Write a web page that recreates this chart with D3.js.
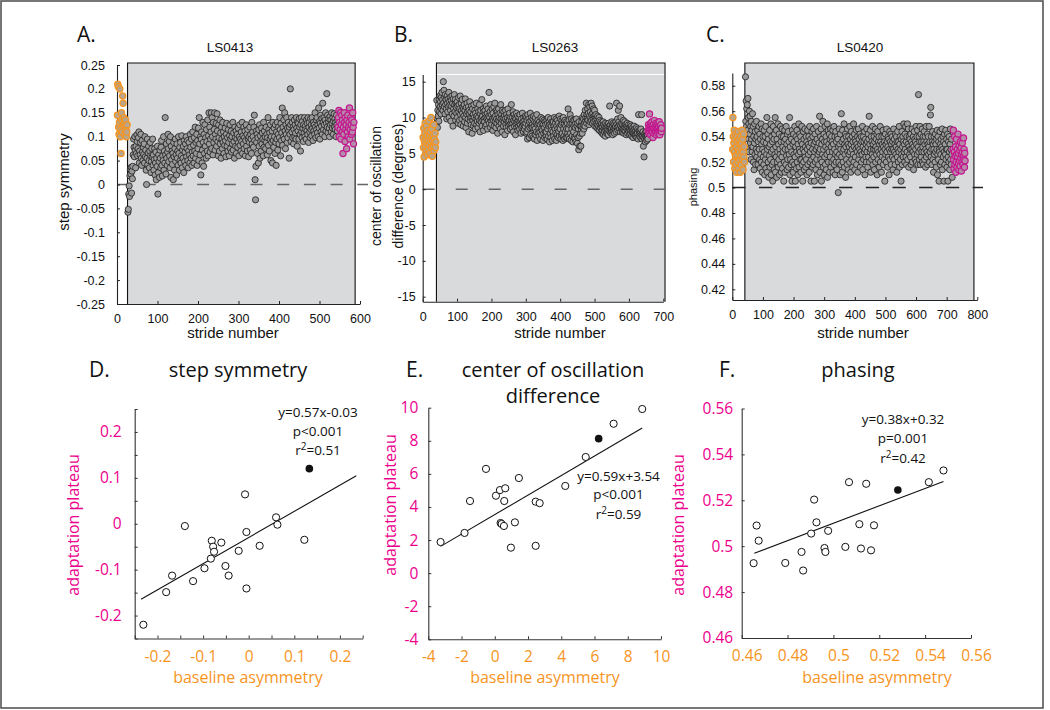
<!DOCTYPE html>
<html><head><meta charset="utf-8">
<script src="https://cdn.jsdelivr.net/npm/d3@7/dist/d3.min.js"></script>
<style>body{margin:0;background:#fff}</style>
</head><body>
<script>
// ================= DATA =================
// Panel A (LS0413) step symmetry, values in thousandths; first stride of each phase
const aStartStrides = [1, 27, 546];
const aBaseline = [145,210,205,120,105,130,200,100,115,65,150,135,110,185,170,125,140,130,105,120,135,115,100,110,125];
const aAdapt = [
-58,-52,-20,-3,-25,18,32,22,36,-18,28,12,38,62,95,78,58,100,72,35,
80,65,104,90,60,75,98,110,45,70,62,88,105,55,40,92,68,50,78,63,
85,45,100,58,72,30,0,55,95,42,66,80,50,35,70,88,60,25,48,75,
58,95,40,62,30,52,75,20,45,68,10,55,38,80,-20,25,62,48,15,72,
55,35,78,92,40,18,60,50,100,30,70,45,140,62,22,85,55,40,68,105,
75,48,90,60,35,100,15,80,52,70,42,65,10,88,58,30,75,95,48,62,
20,85,55,70,40,100,65,30,78,50,88,45,60,102,35,72,55,80,25,92,
48,68,85,40,100,58,75,92,50,35,70,88,62,45,105,78,55,95,40,68,
110,60,82,45,98,70,120,55,88,65,105,40,92,75,118,50,140,85,62,100,
20,95,110,45,72,130,88,38,105,65,125,80,98,55,115,90,70,135,60,102,
150,85,120,68,95,110,150,75,140,100,62,130,88,115,150,72,105,95,128,80,
148,112,90,60,125,98,70,135,85,108,55,120,95,75,130,88,110,65,100,82,
118,92,58,105,128,80,98,70,115,88,60,102,125,75,95,112,68,100,85,130,
72,108,90,55,120,98,80,112,65,95,105,78,118,88,60,100,125,82,95,70,
110,90,130,65,102,85,120,75,98,112,60,92,125,80,105,70,115,95,58,100,
88,120,72,105,95,65,130,85,110,100,78,120,145,92,10,-32,38,112,88,105,
65,98,45,115,80,125,55,102,90,70,118,85,108,95,60,130,78,112,92,100,
75,120,88,105,62,98,140,82,115,70,108,95,125,50,100,88,112,45,130,92,
78,118,100,65,125,88,40,110,95,130,72,105,120,85,98,140,115,60,128,92,
108,160,82,120,100,135,95,150,112,75,125,105,140,88,118,98,130,112,55,120,
105,200,125,90,140,110,130,98,120,85,115,135,100,125,108,95,140,118,80,130,
112,128,95,138,120,105,70,125,140,110,98,132,118,90,125,108,140,100,122,115,
95,135,112,128,105,140,88,120,130,110,98,138,115,125,102,140,118,92,130,112,
125,105,150,120,98,135,115,140,108,125,100,160,118,132,95,128,145,110,122,138,
105,170,130,115,140,125,100,135,150,112,128,190,120,145,108,132,138,118,100,142,
125,135,110,150,128,118,140,105,132,148,120,138,115,130,100,145,125,112,135];
const aPost = [120,140,155,100,130,115,150,95,125,145,110,135,65,120,105,150,130,90,140,115,125,75,135,110,145,100,120,130,160,95,115,140,125,105,135,110,150,120,85,130];

// Panel B (LS0263) center of oscillation difference, values in tenths of a degree
const bStartStrides = [1, 40, 656];
const bBaseline = [72,58,85,45,66,78,92,60,70,52,88,64,75,48,82,68,56,95,62,74,50,80,66,100,58,72,84,46,68,76,60,90,54,70,64,78,58,66];
const bAdapt = [
92,124,98,86,110,102,118,95,125,108,130,115,122,105,128,112,135,118,125,110,
150,120,138,115,128,105,132,118,125,112,98,130,120,108,126,115,135,100,122,117,
128,110,95,124,116,130,105,120,88,126,112,102,132,118,108,125,96,120,114,106,
122,100,116,92,128,108,118,96,112,130,104,90,120,110,98,125,106,115,88,112,
102,118,94,110,126,100,86,114,105,120,92,108,98,115,80,110,104,122,95,100,
108,90,116,100,78,112,96,104,88,118,100,92,110,84,106,98,120,90,102,95,
112,86,100,108,92,118,96,80,105,110,94,100,125,88,102,96,112,82,108,98,
94,110,88,104,100,116,90,98,106,84,112,96,102,135,92,100,108,86,118,95,
104,90,112,98,82,106,96,115,88,100,120,94,102,86,110,98,92,108,78,104,
96,112,88,100,94,106,84,118,98,92,104,80,110,96,100,88,108,94,102,76,
98,110,90,86,104,96,100,82,112,94,88,102,96,106,90,84,100,92,118,96,
86,100,92,108,80,96,104,88,94,100,76,98,90,106,86,94,102,82,96,88,
100,92,84,104,90,96,78,98,86,92,106,88,94,80,100,90,84,96,88,102,
92,78,100,80,96,70,104,84,90,98,72,94,86,106,76,96,88,100,74,90,
86,98,72,102,88,70,94,84,100,76,92,80,104,68,90,96,78,92,84,74,
94,80,90,70,100,84,76,92,82,98,68,90,78,96,86,72,94,80,90,74,
80,96,70,92,84,100,74,88,94,66,90,78,98,72,88,82,94,68,92,80,
94,74,88,100,70,84,92,78,98,68,88,76,96,84,72,92,80,102,74,88,
84,98,70,90,76,96,78,92,68,100,84,74,92,70,96,80,88,72,94,84,
72,92,78,112,84,74,96,70,90,104,78,92,68,98,84,74,92,66,96,80,
88,72,96,70,86,92,66,98,76,88,64,92,72,84,55,94,74,60,88,78,
60,88,82,94,78,100,86,90,98,84,104,92,88,110,96,100,120,92,104,98,
112,96,106,118,90,102,115,94,108,100,120,96,104,116,92,106,98,112,94,102,
110,88,100,96,104,92,86,98,90,102,84,94,88,100,82,96,90,86,94,80,
88,92,78,86,82,94,76,90,84,80,88,74,92,82,86,78,90,80,84,88,
76,92,82,88,116,80,86,90,78,84,94,80,88,76,92,84,80,90,78,86,
84,88,94,80,120,90,86,98,82,110,88,94,84,116,90,80,88,100,84,92,
86,80,90,84,96,78,88,82,94,86,80,90,76,88,84,92,78,86,82,90,
80,86,76,84,90,78,82,88,74,84,80,86,72,82,78,88,76,84,80,74,
82,76,86,72,80,78,84,70,104,76,82,74,80,78,72,84,76,104,70,78,
74,80,60,72,45,76,70,78,66,74,80,72,68,76,74,70];
const bPost = [82,90,78,86,105,80,84,92,76,88,82,94,80,86,72,90,84,78,96,82,88,80,85,92,76,84,90,82,78,88,86,80,94,82,76,86,84,90,80,85];

// Panel C (LS0420) phasing, values in thousandths
const cStartStrides = [1, 42, 721];
const cBaseline = [530,555,540,520,535,545,528,515,538,525,542,518,532,512,540,526,536,520,544,530,515,538,528,522,534,512,540,525,518,535,530,545,522,538,514,528,542,524,532,520];
const cAdapt = [
540,587,552,568,548,562,530,565,545,570,555,538,550,528,560,542,556,535,548,522,
552,538,545,528,558,532,548,520,540,514,535,550,526,544,518,538,530,552,524,540,
528,545,518,536,505,548,530,522,542,515,538,526,550,520,534,546,512,530,540,524,
536,518,545,528,510,540,522,548,515,535,526,555,512,530,542,520,538,508,532,525,
545,516,534,522,550,510,528,540,518,536,505,530,548,520,538,514,542,526,555,512,
532,524,545,508,538,520,528,550,516,534,522,542,510,530,526,548,518,536,512,540,
524,546,515,532,528,540,505,536,520,545,512,530,538,518,548,525,534,514,542,522,
530,544,516,536,526,555,510,532,522,540,518,538,528,505,545,520,534,512,542,526,
536,518,548,524,505,532,540,515,528,545,520,538,510,534,526,550,516,530,542,522,
528,540,512,536,522,548,518,534,505,530,544,520,538,514,528,546,524,532,516,540,
522,536,510,530,545,518,534,526,540,512,532,548,520,528,538,505,535,522,544,516,
530,540,518,546,524,534,505,528,542,520,536,514,530,548,522,538,510,532,526,544,
518,535,528,556,512,530,540,522,546,505,534,520,538,526,552,516,530,542,510,536,
524,548,518,532,540,514,536,526,550,508,530,545,520,534,528,542,512,538,524,546,
516,532,540,520,536,528,545,512,534,522,548,518,530,540,510,526,544,520,536,528,
514,540,524,538,496,532,520,546,526,534,510,542,530,518,558,524,536,512,545,528,
520,538,530,550,516,534,526,542,508,532,540,522,536,518,546,528,534,514,540,526,
532,520,548,528,538,512,534,544,522,530,540,516,536,526,550,520,532,542,514,538,
524,536,530,545,518,534,528,540,512,532,546,522,538,526,530,542,516,534,528,540,
520,536,526,548,514,532,540,522,536,528,544,510,530,538,524,534,520,546,528,536,
516,532,542,524,538,556,520,534,528,545,512,530,540,522,536,526,548,518,534,530,
524,540,514,536,530,546,520,532,538,526,542,510,530,544,522,536,528,540,516,534,
526,548,520,536,530,512,540,524,534,528,545,518,532,540,522,536,505,530,542,526,
534,520,546,528,536,516,532,540,524,538,510,530,544,522,536,528,542,518,534,530,
540,524,536,514,530,546,522,538,528,534,518,542,526,532,540,512,536,524,544,530,
520,536,528,548,516,534,540,522,530,505,538,526,544,518,532,540,524,536,550,528,
534,520,542,530,548,524,536,518,540,528,550,522,534,546,516,532,540,526,538,530,
524,542,518,536,530,546,520,534,528,540,514,532,544,526,538,522,536,530,548,520,
534,540,526,545,518,532,573,528,540,522,536,548,518,530,542,524,536,528,546,520,
532,540,518,536,528,544,522,534,540,516,530,548,524,536,528,542,518,534,540,526,
532,548,520,536,528,557,563,524,540,530,518,536,544,522,534,512,530,540,526,536,
520,542,528,534,516,538,530,545,510,526,540,522,536,505,530,528,544,518,534,526,
538,520,532,546,514,530,540,524,536,505,528,542,518,534,526,545,522,530,538,516,
530,542,505,524,536,520,540,528,514,534,546,522,530,518,538,526,508];
const cPost = [530,545,522,515,528,540,518,525,532,512,520,538,526,516,530,524,542,519,527,514,533,521,529,517,536,523,531,513,526,520,535,528,518,524,539,522,530,516,527,521];

// Adaptation (shaded) stride ranges
const aShade = [26, 588];
const bShade = [40, 705];
const cShade = [41, 789];

// Panel D: step symmetry
const dBaselineAsym = [-0.231,-0.181,-0.168,-0.140,-0.122,-0.097,-0.081,-0.078,-0.076,-0.083,-0.060,-0.051,-0.044,-0.022,-0.008,-0.005,-0.005,0.024,0.060,0.063,0.122];
const dPlateau = [-0.220,-0.149,-0.113,-0.005,-0.125,-0.097,-0.037,-0.050,-0.061,-0.076,-0.041,-0.092,-0.113,-0.059,0.064,-0.018,-0.141,-0.048,0.014,-0.002,-0.035];
const dHighlight = [0.133, 0.120];
const dFit = [0.57, -0.03]; const dFitRange = [-0.236, 0.236];
const dStats = ["y=0.57x-0.03", "p<0.001", "0.51"];

// Panel E: center of oscillation difference
const eBaselineAsym = [-3.26,-1.82,-1.49,-0.53,0.07,0.31,0.63,0.57,0.35,0.41,0.55,1.21,0.97,1.45,2.46,2.70,2.46,4.24,5.47,7.15,8.87];
const ePlateau = [1.88,2.43,4.36,6.30,4.68,5.02,5.13,4.36,3.03,2.97,2.85,3.07,1.54,5.75,4.32,4.23,1.65,5.27,7.02,9.03,9.92];
const eHighlight = [6.25, 8.13];
const eFit = [0.59, 3.54]; const eFitRange = [-3.26, 8.87];
const eStats = ["y=0.59x+3.54", "p<0.001", "0.59"];

// Panel F: phasing
const fBaselineAsym = [0.4652,0.4665,0.4674,0.4790,0.4861,0.4868,0.4903,0.4916,0.4926,0.4961,0.4965,0.4977,0.5052,0.5068,0.5113,0.5120,0.5143,0.5164,0.5177,0.5416,0.5480];
const fPlateau = [0.4926,0.5090,0.5024,0.4927,0.4975,0.4894,0.5055,0.5203,0.5104,0.4992,0.4975,0.5067,0.4997,0.5279,0.5096,0.4990,0.5272,0.4982,0.5091,0.5279,0.5330];
const fHighlight = [0.5281, 0.5245];
const fFit = [0.38, 0.32]; const fFitRange = [0.4655, 0.548];
const fStats = ["y=0.38x+0.32", "p=0.001", "0.42"];

// ================= DRAWING =================
const W = 1050, H = 710;
const ORANGE = "#f7941d", MAGENTA = "#ec008c";
const TOPFONT = "'Liberation Sans', Arial, sans-serif";
const BOTFONT = "'Open Sans', 'Noto Sans', sans-serif";
const svg = d3.select("body").append("svg").attr("width", W).attr("height", H).style("display", "block");
svg.append("rect").attr("x", 1).attr("y", 1).attr("width", 1042).attr("height", 707)
  .attr("fill", "#fff").attr("stroke", "#555").attr("stroke-width", 1.6);

const fmt = d => String(+(+d).toFixed(4));

function phasePoints(starts, arrs, scale) {
  return arrs.map((arr, k) => arr.map((v, i) => ({ s: starts[k] + i, v: v * scale })));
}

function topPanel(p) {
  const x = d3.scaleLinear().domain(p.xDomain).range(p.xRange);
  const y = d3.scaleLinear().domain(p.yDomain).range(p.yRange);
  const g = svg.append("g");
  const bottom = p.yRange[0];
  const x0 = x(p.shade[0]), x1 = x(p.shade[1]);
  g.append("rect").attr("x", x0).attr("y", p.boxTop).attr("width", x1 - x0).attr("height", bottom - p.boxTop).attr("fill", "#d9dadc");
  if (p.whiteLine != null) {
    g.append("line").attr("x1", x0).attr("x2", x1).attr("y1", y(p.whiteLine)).attr("y2", y(p.whiteLine)).attr("stroke", "#fff").attr("stroke-width", 1.2);
  }
  g.append("path").attr("d", `M${x0},${bottom}V${p.boxTop}H${x1}V${bottom}`).attr("fill", "none").attr("stroke", "#111").attr("stroke-width", 1.1);
  g.append("line").attr("x1", p.xRange[0]).attr("x2", p.dashEnd).attr("y1", y(p.ref)).attr("y2", y(p.ref))
    .attr("stroke", p.dashColor).attr("stroke-width", 1.5).attr("stroke-dasharray", p.dash);

  const ya = d3.axisLeft(y).tickValues(p.yTicks).tickFormat(fmt).tickSizeInner(-3).tickSizeOuter(0).tickPadding(p.yPad);
  const gy = g.append("g").attr("transform", `translate(${p.xRange[0]},0)`).call(ya);
  const xa = d3.axisBottom(x).tickValues(p.xTicks).tickFormat(fmt).tickSizeInner(-3).tickSizeOuter(0).tickPadding(10);
  const gx = g.append("g").attr("transform", `translate(0,${bottom})`).call(xa);
  [gy, gx].forEach(a => {
    a.attr("font-family", TOPFONT).attr("font-size", 12.5);
    a.select(".domain").attr("stroke", "#222").attr("stroke-width", 1.1);
    a.selectAll(".tick line").attr("stroke", "#222");
    a.selectAll(".tick text").attr("fill", "#111");
  });

  const [base, adapt, post] = phasePoints(p.starts, p.series, p.unit);
  const dot = (data, fill, stroke, sw) => g.append("g").selectAll("circle").data(data).join("circle")
    .attr("cx", d => x(d.s)).attr("cy", d => y(d.v)).attr("r", 3.1)
    .attr("fill", fill).attr("stroke", stroke).attr("stroke-width", sw);
  dot(adapt, "#9b9b9b", "#1c1c1c", 0.8);
  dot(base, "#b8a58c", ORANGE, 1.2);
  dot(post, "#b58aa9", "#c4168e", 1.2);

  g.append("text").attr("x", p.titleX).attr("y", 51.5).attr("text-anchor", "middle")
    .attr("font-family", TOPFONT).attr("font-size", 13.5).attr("fill", "#111").text(p.title);
  g.append("text").attr("x", p.letterX).attr("y", 41.5).attr("font-family", BOTFONT).attr("font-size", 21).attr("fill", "#111").text(p.letter);
  g.append("text").attr("x", p.xLabelX).attr("y", 338).attr("text-anchor", "middle")
    .attr("font-family", TOPFONT).attr("font-size", 15).attr("fill", "#111").text("stride number");
  p.yLabel.forEach((t, i) => {
    g.append("text").attr("transform", `translate(${p.yLabelX[i]},${p.yLabelY}) rotate(-90)`).attr("text-anchor", "middle")
      .attr("font-family", TOPFONT).attr("font-size", p.yLabelSize).attr("fill", "#111").text(t);
  });
}

topPanel({
  xDomain: [0, 600], xRange: [117, 360], yDomain: [-0.25, 0.25], yRange: [304, 65], boxTop: 63,
  shade: aShade, ref: 0, dashEnd: 368, dashColor: "#666", dash: "12,14.7",
  yTicks: d3.range(-0.25, 0.2501, 0.05), xTicks: [0, 100, 200, 300, 400, 500, 600], yPad: 12,
  starts: aStartStrides, series: [aBaseline, aAdapt, aPost], unit: 0.001,
  title: "LS0413", titleX: 230, letter: "A.", letterX: 77, xLabelX: 233,
  yLabel: ["step symmetry"], yLabelX: [69], yLabelY: 182, yLabelSize: 15
});
topPanel({
  xDomain: [0, 700], xRange: [422.7, 663.3], yDomain: [-15.7, 16], yRange: [301.7, 74.5], boxTop: 63,
  shade: bShade, whiteLine: 16, ref: 0, dashEnd: 672, dashColor: "#666", dash: "12,21",
  yTicks: [-15, -10, -5, 0, 5, 10, 15], xTicks: [0, 100, 200, 300, 400, 500, 600, 700], yPad: 7,
  starts: bStartStrides, series: [bBaseline, bAdapt, bPost], unit: 0.1,
  title: "LS0263", titleX: 555, letter: "B.", letterX: 394, xLabelX: 560,
  yLabel: ["center of oscillation", "difference (degrees)"], yLabelX: [381, 403], yLabelY: 186, yLabelSize: 14
});
topPanel({
  xDomain: [0, 800], xRange: [732.3, 977.3], yDomain: [0.4116, 0.590], yRange: [300, 73], boxTop: 63,
  shade: cShade, ref: 0.5, dashEnd: 983, dashColor: "#222", dash: "13.3,13.4",
  yTicks: [0.42, 0.44, 0.46, 0.48, 0.5, 0.52, 0.54, 0.56, 0.58], xTicks: [0, 100, 200, 300, 400, 500, 600, 700, 800], yPad: 7,
  starts: cStartStrides, series: [cBaseline, cAdapt, cPost], unit: 0.001,
  title: "LS0420", titleX: 860, letter: "C.", letterX: 706, xLabelX: 863,
  yLabel: ["phasing"], yLabelX: [697], yLabelY: 187, yLabelSize: 11
});

function bottomPanel(p) {
  const x = d3.scaleLinear().domain(p.xDomain).range(p.xRange);
  const y = d3.scaleLinear().domain(p.yDomain).range(p.yRange);
  const g = svg.append("g");
  const isMajor = (d, majors) => majors.some(m => Math.abs(m - d) < 1e-9);
  const ya = d3.axisLeft(y).tickValues(p.yTicksAll).tickFormat(d => isMajor(d, p.yMajor) ? fmt(d) : "")
    .tickSizeInner(-3).tickSizeOuter(0).tickPadding(p.yPad);
  const gy = g.append("g").attr("transform", `translate(${p.xRange[0]},0)`).call(ya);
  const xa = d3.axisBottom(x).tickValues(p.xTicksAll).tickFormat(d => isMajor(d, p.xMajor) ? fmt(d) : "")
    .tickSizeInner(-3).tickSizeOuter(0).tickPadding(12);
  const gx = g.append("g").attr("transform", `translate(0,${p.yRange[0]})`).call(xa);
  [[gy, MAGENTA], [gx, ORANGE]].forEach(([a, c]) => {
    a.attr("font-family", BOTFONT).attr("font-size", 15.5);
    a.select(".domain").attr("stroke", "#333").attr("stroke-width", 1.1);
    a.selectAll(".tick line").attr("stroke", "#333");
    a.selectAll(".tick text").attr("fill", c);
  });
  gx.selectAll(".tick text").attr("dx", p.xLabDx || 0);

  const [sl, ic] = p.fit;
  g.append("line").attr("x1", x(p.fitRange[0])).attr("y1", y(sl * p.fitRange[0] + ic))
    .attr("x2", x(p.fitRange[1])).attr("y2", y(sl * p.fitRange[1] + ic)).attr("stroke", "#111").attr("stroke-width", 1.1);
  const pts = p.xs.map((v, i) => [v, p.ys[i]]);
  g.append("g").selectAll("circle").data(pts).join("circle")
    .attr("cx", d => x(d[0])).attr("cy", d => y(d[1])).attr("r", 3.6)
    .attr("fill", "#fff").attr("stroke", "#111").attr("stroke-width", 1);
  g.append("circle").attr("cx", x(p.hi[0])).attr("cy", y(p.hi[1])).attr("r", 3.8).attr("fill", "#111");

  const t = (xx, yy, s, size, fill, anchor) => g.append("text").attr("x", xx).attr("y", yy)
    .attr("text-anchor", anchor || "middle").attr("font-family", BOTFONT).attr("font-size", size).attr("fill", fill).text(s);
  t(p.statX, p.statY[0], p.stats[0], 13.5, "#111");
  t(p.statX, p.statY[1], p.stats[1], 13.5, "#111");
  const r2 = t(p.statX, p.statY[2] + 1, "", 13.5, "#111");
  r2.append("tspan").text("r");
  r2.append("tspan").attr("dy", -5).attr("font-size", 10).text("2");
  r2.append("tspan").attr("dy", 5).text("=" + p.stats[2]);

  t(p.letterX, 377, p.letter, 21, "#111", "start");
  p.title.forEach((s, i) => t(p.titleX, 377 + i * 26, s, 20, "#111"));
  t(p.xLabelX, 683, "baseline asymmetry", 16, ORANGE);
  g.append("text").attr("transform", `translate(${p.yLabelX},${p.yLabelY}) rotate(-90)`).attr("text-anchor", "middle")
    .attr("font-family", BOTFONT).attr("font-size", 16).attr("fill", MAGENTA).text("adaptation plateau");
}

bottomPanel({
  xDomain: [-0.25, 0.25], xRange: [134.7, 362.7], yDomain: [-0.25, 0.25], yRange: [638.5, 409],
  xTicksAll: d3.range(-0.25, 0.2501, 0.05), xMajor: [-0.2, -0.1, 0, 0.1, 0.2],
  yTicksAll: d3.range(-0.25, 0.2501, 0.05), yMajor: [-0.2, -0.1, 0, 0.1, 0.2], yPad: 13,
  xs: dBaselineAsym, ys: dPlateau, hi: dHighlight, fit: dFit, fitRange: dFitRange,
  stats: dStats, statX: 318, statY: [417, 436, 454],
  letter: "D.", letterX: 89, title: ["step symmetry"], titleX: 238,
  xLabelX: 248, yLabelX: 79, yLabelY: 525
});
bottomPanel({
  xDomain: [-4, 10], xRange: [428.3, 661], yDomain: [-4, 10], yRange: [639.3, 407.7],
  xTicksAll: [-4, -2, 0, 2, 4, 6, 8, 10], xMajor: [-4, -2, 0, 2, 4, 6, 8, 10],
  yTicksAll: [-4, -2, 0, 2, 4, 6, 8, 10], yMajor: [-4, -2, 0, 2, 4, 6, 8, 10], yPad: 10,
  xs: eBaselineAsym, ys: ePlateau, hi: eHighlight, fit: eFit, fitRange: eFitRange,
  stats: eStats, statX: 618.5, statY: [480.5, 499, 517.5],
  letter: "E.", letterX: 406, title: ["center of oscillation", "difference"], titleX: 553,
  xLabelX: 545, yLabelX: 396, yLabelY: 505
});
bottomPanel({
  xDomain: [0.46, 0.56], xRange: [741.7, 971], yDomain: [0.46, 0.56], yRange: [638, 408.5],
  xTicksAll: [0.46, 0.48, 0.5, 0.52, 0.54, 0.56], xMajor: [0.46, 0.48, 0.5, 0.52, 0.54, 0.56], xLabDx: 5,
  yTicksAll: [0.46, 0.48, 0.5, 0.52, 0.54, 0.56], yMajor: [0.46, 0.48, 0.5, 0.52, 0.54, 0.56], yPad: 8.5,
  xs: fBaselineAsym, ys: fPlateau, hi: fHighlight, fit: fFit, fitRange: fFitRange,
  stats: fStats, statX: 903, statY: [424.3, 443, 461.7],
  letter: "F.", letterX: 719, title: ["phasing"], titleX: 858,
  xLabelX: 877, yLabelX: 684, yLabelY: 525
});
</script>
</body></html>
